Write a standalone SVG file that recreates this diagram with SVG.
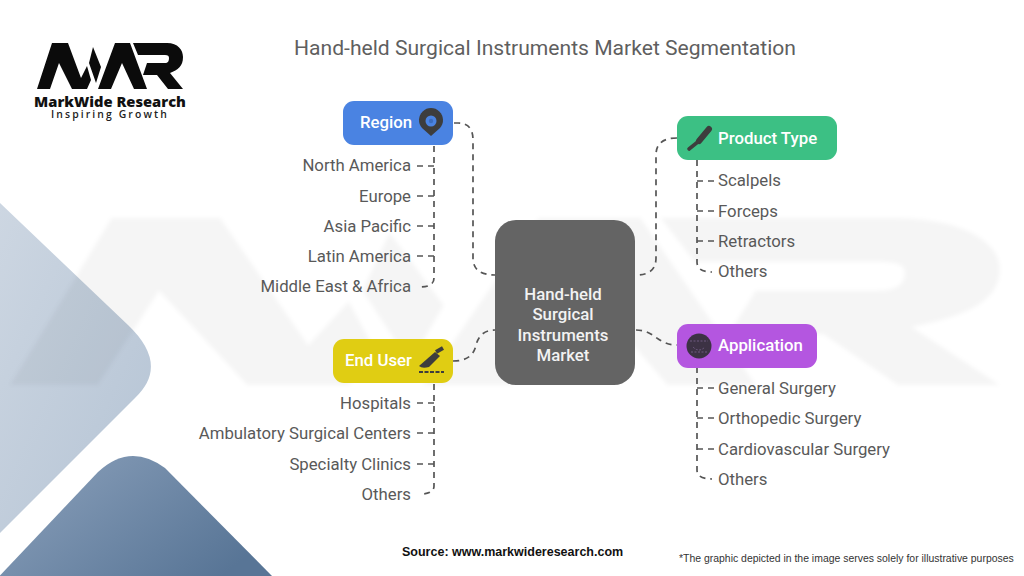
<svg xmlns="http://www.w3.org/2000/svg" width="1024" height="576" viewBox="0 0 1024 576">
<style>
.t{font-family:Roboto,"Liberation Sans",sans-serif}
.title{font-size:21.1px;fill:#5f5f5f}
.item{font-size:16.75px;fill:#595959}
.head{font-size:16.8px;font-weight:500;fill:#fff}
.center{font-size:16.8px;font-weight:500;fill:#f2f2f2;text-anchor:middle}
.e{text-anchor:end}
.conn path{fill:none;stroke:#555;stroke-width:1.7;stroke-dasharray:6 5}
.ic{fill:#3d3d3d}
</style>
<defs>
<linearGradient id="g1" x1="0" y1="0" x2="1" y2="1"><stop offset="0" stop-color="#cfd8e3"/><stop offset="1" stop-color="#b4c3d4"/></linearGradient>
<linearGradient id="g2" x1="0" y1="0" x2="1" y2="0.6"><stop offset="0" stop-color="#8ea3bd"/><stop offset="1" stop-color="#587596"/></linearGradient>
<filter id="soft" x="-5%" y="-5%" width="110%" height="110%"><feGaussianBlur stdDeviation="2"/></filter>
<path id="logo" d="M37 89 52 43H68L81 78 87 66 91 80 87 89H72L59 63 50 89ZM93 47 101 67 96 83 89 63ZM98 89 115 43H130L147 89H134L122 63 111 89ZM133 43H167C178 43 183 50 183 57 183 66 178 70 170 73L183 89H168L157 75H143L147 63H165C168 63 169 61 169 58 169 56 168 55 165 55H138Z"/>
</defs>
<rect width="1024" height="576" fill="#fff"/>
<path d="M-20 184 128 325Q170 365 135 398L-20 553Z" fill="url(#g1)"/>
<path d="M-10 586 98 472Q130 442 165 468L272 576V590H-10Z" fill="url(#g2)"/>
<g filter="url(#soft)"><use href="#logo" fill="#000" opacity=".04" transform="translate(-241 62) scale(6.78 3.63)"/></g>
<g id="logo-mark"><use href="#logo" fill="#0b0b0b"/>
<text x="110" y="107" text-anchor="middle" style="font-family:'Open Sans',sans-serif;font-size:14.7px;font-weight:800" fill="#111">MarkWide Research</text>
<text x="110" y="118" text-anchor="middle" style="font-family:'Open Sans',sans-serif;font-size:10.4px;font-weight:600;letter-spacing:2.1px" fill="#222">Inspiring Growth</text></g>
<text x="545" y="55" text-anchor="middle" class="t title">Hand-held Surgical Instruments Market Segmentation</text>
<g class="conn" id="connectors">
<path d="M454 123H458Q473 123 473 140V258Q473 275 495 275"/>
<path d="M677 138Q656 138 656 155V258Q656 275 636 275"/>
<path d="M453 361Q473 361 476 345Q480 330 495 330"/>
<path d="M636 330C655 330 657 345 677 345"/>
<path d="M434 146V278Q434 287 420 287"/>
<path d="M434 166H416M434 196H416M434 226H416M434 256H416"/>
<path d="M697 160V262Q697 272 712 272"/>
<path d="M697 181H716M697 211H716M697 241H716"/>
<path d="M434 384V486Q434 494 420 494"/>
<path d="M434 403H416M434 433H416M434 464H416"/>
<path d="M697 367V470Q697 479 712 479"/>
<path d="M697 388H716M697 418H716M697 449H716"/>
</g>
<g id="center"><rect x="495" y="220" width="140" height="165" rx="21" fill="#646464"/>
<text class="t center" x="563" y="300">Hand-held</text><text class="t center" x="563" y="320">Surgical</text><text class="t center" x="563" y="341">Instruments</text><text class="t center" x="563" y="361">Market</text></g>
<g id="region"><rect x="343" y="101" width="110" height="44" rx="11" fill="#4a83e2"/>
<text class="t head" x="360" y="128">Region</text>
<path class="ic" d="M431 136 422 128A12 12 0 1 1 440 128Z"/><circle cx="431" cy="121" r="5.5" fill="#4a83e2"/><circle cx="431" cy="121" r="2.2" fill="#3a6cc0"/></g>
<g id="product-type"><rect x="677" y="116" width="160" height="44" rx="11" fill="#3cc084"/>
<text class="t head" x="718" y="144">Product Type</text>
<path d="M709 129 699 141" stroke="#3d3d3d" stroke-width="6" stroke-linecap="round"/><path d="M699 141 689 149" stroke="#3d3d3d" stroke-width="3.6" stroke-linecap="round"/></g>
<g id="end-user"><rect x="333" y="339" width="120" height="44" rx="11" fill="#e0cd13"/>
<text class="t head" x="345" y="366">End User</text>
<path class="ic" d="M419 366 435 352 440 356 429 367Q422 369 419 366Z"/><path d="M436 352 443 348" stroke="#3d3d3d" stroke-width="4"/><path d="M419 372H444" stroke="#3d3d3d" stroke-width="2" stroke-dasharray="4 1.5"/></g>
<g id="application"><rect x="677" y="324" width="140" height="44" rx="11" fill="#b456e0"/>
<text class="t head" x="718" y="351">Application</text>
<circle cx="699" cy="346" r="12.5" fill="#3c3244"/><path d="M693 347Q699 353 705 347M690 341H708M691 352H707" stroke="#6e5a80" stroke-width="1" fill="none" stroke-dasharray="2 1.5"/></g>
<g id="region-items"><text class="t item e" x="411" y="171">North America</text><text class="t item e" x="411" y="202">Europe</text><text class="t item e" x="411" y="232">Asia Pacific</text><text class="t item e" x="411" y="262">Latin America</text><text class="t item e" x="411" y="292">Middle East &amp; Africa</text></g>
<g id="product-items"><text class="t item" x="718" y="186">Scalpels</text><text class="t item" x="718" y="217">Forceps</text><text class="t item" x="718" y="247">Retractors</text><text class="t item" x="718" y="277">Others</text></g>
<g id="user-items"><text class="t item e" x="411" y="409">Hospitals</text><text class="t item e" x="411" y="439">Ambulatory Surgical Centers</text><text class="t item e" x="411" y="470">Specialty Clinics</text><text class="t item e" x="411" y="500">Others</text></g>
<g id="application-items"><text class="t item" x="718" y="394">General Surgery</text><text class="t item" x="718" y="424">Orthopedic Surgery</text><text class="t item" x="718" y="455">Cardiovascular Surgery</text><text class="t item" x="718" y="485">Others</text></g>
<text x="402" y="556" style="font-family:'Liberation Sans',sans-serif;font-size:12.5px;font-weight:700" fill="#111">Source: www.markwideresearch.com</text>
<text x="679" y="562" style="font-family:'Liberation Sans',sans-serif;font-size:10.45px" fill="#333">*The graphic depicted in the image serves solely for illustrative purposes</text>
</svg>
